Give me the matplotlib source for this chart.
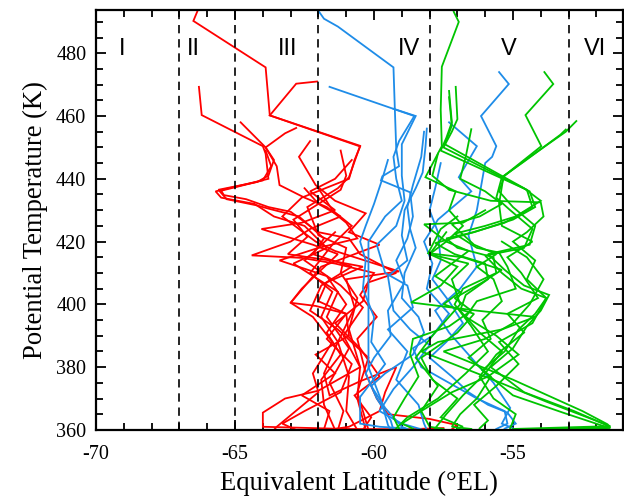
import matplotlib
matplotlib.use("Agg")
import matplotlib.pyplot as plt
from matplotlib.ticker import MultipleLocator

# (equivalent latitude, potential temperature) pairs, top to bottom
red_a = [(-66.35, 493.5), (-66.5, 490.3), (-63.9, 475.5), (-63.75, 460.2), (-60.5, 450.5),
         (-60.9, 440.5), (-61.3, 437), (-62.4, 431), (-62.0, 422), (-61.0, 418), (-61.2, 410),
         (-60.6, 402), (-60.9, 392), (-60.5, 380), (-60.6, 370), (-60.3, 360)]
red_b = [(-62.05, 471.0), (-62.8, 470.3), (-63.75, 460.2), (-60.5, 450.3), (-60.7, 446),
         (-60.9, 440), (-62.6, 434), (-63.3, 428), (-62.1, 420), (-61.4, 417), (-59.1, 410.5),
         (-61.0, 408), (-60.7, 399), (-61.3, 388), (-60.9, 377), (-61.0, 366), (-60.6, 360)]
red_c = [(-66.3, 469.3), (-66.2, 460.3), (-64.0, 450.4), (-63.9, 448), (-63.8, 440),
         (-64.5, 438.5), (-65.7, 436), (-65.5, 434), (-64.3, 432), (-63.6, 428), (-62.5, 425),
         (-61.7, 418), (-62.9, 413), (-61.3, 404), (-61.7, 396), (-60.9, 386), (-61.6, 375),
         (-61.1, 366), (-61.3, 360)]
red_d = [(-64.8, 458), (-63.9, 450), (-63.6, 446), (-63.8, 441), (-64.2, 439), (-65.6, 436.5),
         (-65.3, 433.5), (-64.2, 431.5), (-63.8, 430.5), (-62.7, 428), (-61.8, 421), (-62.2, 416),
         (-60.8, 412), (-61.9, 406), (-62.3, 398), (-61.3, 392), (-60.2, 383), (-60.6, 372),
         (-60.2, 360)]
red_e = [(-62.8, 456.2), (-63.2, 454.5), (-63.9, 450), (-63.5, 444), (-63.4, 438), (-62.5, 434),
         (-61.7, 431), (-61.0, 426), (-60.6, 421), (-62.0, 418), (-63.4, 414), (-61.7, 409),
         (-61.0, 400), (-61.7, 391), (-61.2, 384), (-61.9, 376), (-61.8, 368), (-61.4, 360)]
red_f = [(-61.4, 423), (-62.5, 414), (-61.2, 406), (-60.4, 399), (-61.1, 390), (-60.5, 380),
         (-62.0, 372.5), (-63.2, 370), (-64.0, 365.5), (-64.0, 361), (-61.0, 360.3),
         (-58.8, 360.2), (-57.5, 360.6)]
red_g = [(-62.3, 452), (-62.7, 447), (-62.1, 438), (-61.4, 433), (-60.3, 429), (-60.9, 423),
         (-59.8, 419), (-61.9, 412), (-63.0, 400.5), (-62.2, 396), (-61.5, 388), (-62.2, 378),
         (-62.0, 372), (-63.5, 361), (-63.6, 360)]
red_h = [(-62.5, 437), (-62.0, 432), (-61.2, 428), (-62.3, 424), (-63.0, 420), (-64.4, 415.6),
         (-62.6, 414.8), (-61.4, 413), (-60.0, 410), (-60.5, 403), (-59.9, 396), (-60.6, 389),
         (-60.3, 378), (-59.9, 370), (-59.5, 365), (-58.0, 363.5), (-57.0, 361.5), (-57.2, 360.2)]
red_i = [(-60.8, 446), (-61.4, 440), (-62.3, 436), (-61.4, 430), (-62.6, 426), (-64.05, 424),
         (-62.2, 419), (-61.3, 416), (-61.9, 411), (-62.6, 405), (-63.0, 400.5), (-62.1, 399.5),
         (-61.0, 397), (-61.7, 389), (-60.8, 381), (-61.2, 372), (-62.5, 366), (-63.3, 362),
         (-62.8, 360)]
red_j = [(-63.9, 449), (-63.7, 444), (-64.0, 439.5), (-65.5, 436.2), (-65.4, 434.8),
         (-64.6, 433.5), (-63.8, 431), (-63.0, 429.5), (-62.0, 423), (-60.9, 421), (-60.5, 416),
         (-59.2, 410), (-60.2, 407), (-60.4, 401), (-61.4, 394), (-60.5, 386), (-59.8, 377),
         (-60.7, 371), (-60.1, 364), (-60.4, 360)]
red_k = [(-61.2, 449), (-61.0, 441), (-61.2, 436.5), (-62.0, 432), (-62.9, 427), (-62.4, 421.5),
         (-63.1, 416), (-61.6, 414), (-60.4, 412), (-61.7, 407), (-62.0, 401), (-61.0, 397),
         (-60.9, 390), (-62.1, 384), (-61.4, 378), (-62.6, 371), (-61.6, 366), (-61.8, 360.2)]
red_l = [(-62.0, 437), (-61.5, 430), (-60.8, 425), (-61.5, 419), (-62.3, 410), (-61.5, 404),
         (-61.9, 396), (-61.3, 388), (-61.8, 378), (-61.6, 371), (-60.5, 375.5), (-59.2, 380),
         (-59.6, 372), (-59.8, 366), (-60.9, 361), (-61.5, 360.2)]

blue_a = [(-62.0, 493.5), (-61.8, 491), (-61.3, 488.5), (-59.3, 475.5), (-59.25, 462),
          (-59.2, 449.5), (-59.1, 444), (-59.7, 440.8), (-59.75, 439.5), (-58.7, 435.7),
          (-58.6, 428), (-58.8, 421), (-59.2, 414), (-58.9, 407), (-59.5, 398), (-59.4, 390),
          (-60.0, 383), (-60.3, 378), (-59.9, 370), (-59.4, 363), (-59.3, 360)]
blue_b = [(-61.6, 469.3), (-58.55, 460), (-59.1, 452), (-59.3, 447), (-59.2, 440), (-59.0, 433),
          (-59.6, 428), (-60.2, 420), (-60.2, 411), (-60.2, 395), (-60.2, 380), (-59.75, 369.6),
          (-59.5, 361.6), (-59.4, 360)]
blue_c = [(-59.3, 462.3), (-58.5, 460), (-59.0, 451), (-59.0, 441), (-58.9, 433), (-59.2, 425),
          (-59.9, 419), (-59.6, 410), (-58.8, 406), (-58.6, 399), (-59.5, 392), (-58.8, 385),
          (-59.2, 376), (-58.4, 368), (-58.2, 362), (-58.1, 360)]
blue_d = [(-58.1, 456), (-58.15, 450), (-58.25, 442), (-58.5, 437), (-58.9, 430), (-59.0, 422),
          (-58.8, 414), (-59.5, 409), (-59.3, 398), (-58.7, 392), (-58.0, 387), (-58.6, 380),
          (-59.3, 373), (-59.8, 366), (-59.0, 362), (-58.3, 360.2)]
blue_e = [(-55.5, 474), (-55.15, 470.2), (-56.15, 460), (-55.6, 450.4), (-55.75, 447),
          (-56.0, 445), (-56.3, 430), (-56.6, 422), (-56.3, 412), (-56.9, 405), (-57.8, 398),
          (-57.3, 391), (-56.5, 383), (-55.7, 375), (-55.1, 367), (-55.4, 362), (-55.0, 360.5)]
blue_f = [(-57.3, 458), (-56.3, 450.4), (-56.95, 440.5), (-56.5, 436), (-57.7, 427),
          (-58.2, 420), (-57.9, 413), (-58.1, 405), (-57.3, 397), (-57.9, 390), (-58.6, 386),
          (-58.3, 380), (-57.3, 375), (-56.3, 370), (-55.3, 366), (-55.2, 362), (-55.6, 360.3)]
blue_g = [(-59.5, 446), (-59.7, 440), (-60.0, 432), (-60.3, 425), (-60.5, 420), (-60.3, 414),
          (-60.4, 405), (-60.0, 396), (-60.1, 388), (-59.6, 381), (-60.5, 370.5), (-60.5, 362),
          (-59.8, 361), (-58.9, 360.5)]
blue_h = [(-58.2, 455), (-58.3, 447), (-58.6, 438), (-58.8, 431), (-58.7, 424), (-58.5, 418),
          (-58.9, 410), (-59.0, 402), (-58.4, 396), (-58.2, 391), (-58.6, 384), (-59.6, 378),
          (-60.1, 374), (-59.6, 367), (-59.0, 361), (-58.8, 360.3)]
blue_i = [(-57.6, 445), (-57.8, 437), (-58.0, 430), (-57.7, 423), (-57.6, 414), (-57.9, 408),
          (-57.3, 401), (-56.8, 394), (-57.4, 388), (-58.0, 383), (-57.2, 377), (-56.6, 372),
          (-55.9, 368), (-55.2, 365.5), (-54.9, 362), (-55.3, 360.4)]

green_a = [(-57.13, 493.2), (-56.95, 490), (-57.56, 475.7), (-57.6, 462), (-57.56, 450.4),
           (-58.15, 440.5), (-57.06, 436), (-57.3, 430), (-56.8, 425), (-57.4, 420), (-58.0, 416),
           (-56.6, 413), (-57.2, 408), (-56.9, 400), (-57.9, 390), (-58.5, 383), (-57.7, 374),
           (-58.3, 366), (-58.0, 361), (-57.5, 360.3)]
green_b = [(-53.87, 474), (-53.55, 470.2), (-54.55, 460.3), (-53.98, 450.4), (-55.34, 440.8),
           (-55.5, 432), (-55.4, 425), (-54.3, 420), (-55.2, 415), (-54.7, 410), (-54.1, 402),
           (-55.2, 397), (-54.6, 391), (-55.6, 384), (-56.2, 377), (-55.7, 370), (-54.9, 365),
           (-55.1, 360.5)]
green_c = [(-52.72, 458.4), (-53.1, 455), (-54.55, 446), (-55.3, 441), (-55.5, 436), (-55.0, 431),
           (-54.2, 425), (-54.4, 419), (-55.9, 416), (-55.3, 411), (-54.6, 406), (-53.7, 403),
           (-54.0, 398), (-54.5, 393), (-55.0, 386), (-55.8, 380), (-54.6, 372), (-52.8, 366),
           (-51.5, 361), (-53.0, 360.4)]
green_d = [(-53.1, 455.7), (-53.3, 454), (-54.6, 445.5), (-55.4, 440.5), (-55.6, 434),
           (-55.1, 430), (-54.3, 424), (-54.6, 418), (-56.0, 415.5), (-55.4, 410), (-54.7, 405),
           (-53.8, 402), (-54.2, 397), (-54.8, 392), (-55.3, 385), (-56.1, 379), (-55.0, 371),
           (-53.2, 365.5), (-51.6, 360.8), (-53.5, 360.3)]
green_e = [(-57.06, 469.3), (-57.0, 459), (-57.2, 455), (-57.5, 450), (-54.4, 436), (-54.2, 431),
           (-55.0, 427), (-56.4, 423), (-57.4, 421), (-57.0, 418), (-55.7, 415), (-55.6, 410),
           (-56.8, 405), (-57.1, 400), (-56.5, 393), (-55.9, 385), (-56.7, 378), (-57.7, 370),
           (-58.8, 364), (-59.2, 360.5)]
green_f = [(-57.3, 468), (-57.2, 458), (-57.4, 453), (-57.6, 449), (-54.5, 436.5), (-54.3, 431),
           (-55.3, 426), (-56.8, 422), (-57.8, 419.5), (-57.1, 416), (-56.0, 413), (-55.9, 408),
           (-56.7, 403), (-56.9, 398), (-56.2, 391), (-55.4, 385), (-56.0, 378), (-56.8, 371),
           (-57.4, 365), (-57.8, 360.5)]
green_g = [(-56.5, 455.8), (-56.7, 447), (-56.9, 440), (-56.0, 436), (-55.4, 432), (-56.2, 428),
           (-57.2, 425.5), (-56.4, 419), (-55.6, 416), (-56.3, 412), (-55.7, 408), (-55.4, 401),
           (-56.1, 395), (-55.8, 389), (-56.6, 383), (-55.8, 377), (-56.3, 370), (-56.9, 365),
           (-57.2, 361), (-56.5, 360.3)]
green_h = [(-57.4, 423), (-58.0, 416), (-57.0, 412), (-57.6, 406), (-58.67, 400.6), (-56.3, 398),
           (-54.2, 396), (-55.4, 392), (-57.7, 388), (-58.3, 385), (-56.0, 377), (-53.8, 369),
           (-51.5, 361.2), (-55.0, 360.3)]
green_i = [(-57.7, 448), (-57.9, 441), (-57.3, 436.5), (-55.8, 433), (-54.0, 432.5), (-53.9, 428),
           (-54.5, 423), (-55.0, 420), (-54.2, 414), (-54.5, 408), (-53.8, 402), (-54.3, 394),
           (-55.5, 388), (-54.8, 381), (-55.6, 374), (-56.4, 368), (-55.9, 363), (-56.2, 360.5)]
green_j = [(-57.3, 466), (-57.2, 457), (-57.45, 451), (-54.6, 437), (-54.0, 433), (-54.9, 428),
           (-56.0, 425), (-57.1, 422.5), (-56.3, 418), (-55.5, 416.5), (-55.2, 412), (-54.9, 405),
           (-56.3, 401), (-56.7, 396), (-55.6, 390), (-54.8, 384), (-55.9, 377), (-57.2, 372),
           (-58.3, 366), (-59.0, 362), (-58.6, 360.4)]
green_k = [(-56.0, 430), (-56.8, 426), (-58.2, 425.5), (-57.4, 420), (-56.6, 417), (-57.2, 413),
           (-57.8, 409), (-56.9, 404), (-57.5, 400), (-56.4, 397), (-57.0, 391), (-58.3, 383),
           (-57.9, 376), (-57.0, 370), (-57.6, 364), (-56.8, 361), (-57.0, 360.3)]
green_l = [(-55.4, 420), (-54.5, 415), (-53.9, 408), (-54.4, 400), (-55.0, 394), (-56.0, 389),
           (-57.5, 385), (-55.0, 376), (-52.5, 366), (-51.6, 361.8), (-51.5, 360.6), (-54.0, 360.3)]
green_m = [(-57.0, 428), (-57.6, 424), (-58.05, 416.3), (-56.8, 415), (-55.4, 411), (-56.1, 407),
           (-57.1, 402), (-56.5, 398), (-57.3, 393), (-58.6, 389), (-58.7, 384), (-58.4, 377),
           (-58.9, 370), (-59.3, 364), (-59.1, 360.4)]

reds = [red_a, red_b, red_c, red_d, red_e, red_f, red_g, red_h, red_i, red_j, red_k, red_l]
blues = [blue_a, blue_b, blue_c, blue_d, blue_e, blue_f, blue_g, blue_h, blue_i]
greens = [green_a, green_b, green_c, green_d, green_e, green_f, green_g, green_h, green_i,
          green_j, green_k, green_l, green_m]

boundaries = [-67, -65, -62, -58, -53]
region_names = ["I", "II", "III", "IV", "V", "VI"]
region_x = [-69.07, -66.5, -63.1, -58.75, -55.16, -52.04]

plt.rcParams["axes.unicode_minus"] = False
plt.rcParams["font.family"] = "Liberation Serif"

fig = plt.figure(figsize=(6.24, 4.97), dpi=100)
ax = fig.add_axes([0.154, 0.135, 0.844, 0.845])

for group, col in [(reds, "#ff0000"), (blues, "#1e8ce8"), (greens, "#00c400")]:
    for prof in group:
        lat, theta = zip(*prof)
        ax.plot(lat, theta, color=col, lw=1.3, solid_joinstyle="miter")

for b in boundaries:
    ax.axvline(b, color="black", lw=1.2, ls=(0, (5, 3.5)))

for name, x in zip(region_names, region_x):
    ax.text(x, 481.2, name, family="Liberation Sans", fontsize=17,
            ha="center", va="center")

ax.set_xlim(-70, -51.05)
ax.set_ylim(360, 493.8)
ax.xaxis.set_major_locator(MultipleLocator(5))
ax.xaxis.set_minor_locator(MultipleLocator(1))
ax.yaxis.set_major_locator(MultipleLocator(20))
ax.yaxis.set_minor_locator(MultipleLocator(5))
ax.tick_params(which="both", direction="in", top=True, right=True, width=1.3,
               labelsize=14.5, pad=7)
ax.tick_params(axis="x", which="major", pad=11)
ax.tick_params(which="major", length=7)
ax.tick_params(which="minor", length=5)
for s in ax.spines.values():
    s.set_linewidth(1.6)

ax.set_xlabel("Equivalent Latitude (°EL)", fontsize=19.2, labelpad=5)
ax.set_ylabel("Potential Temperature (K)", fontsize=19.2, labelpad=6)

fig.savefig("out.png", dpi=100)
